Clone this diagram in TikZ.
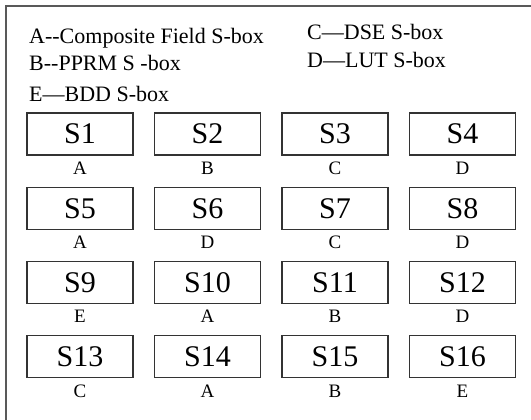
\documentclass[tikz,border=0pt]{standalone}
\usepackage{fontspec}
\setmainfont{Liberation Serif}
\usetikzlibrary{positioning}

\begin{document}
\begin{tikzpicture} [
       x=1pt, y=-1pt,
       sbox/.style={rectangle, draw=black!80, line width=1.1pt,
               minimum width=106pt, minimum height=42pt, inner sep=0pt,
               font=\fontsize{30}{30}\selectfont},
       legend/.style={anchor=base west, inner sep=0pt,
               font=\fontsize{22}{22}\selectfont},
       frame/.style={draw=black!65, line width=1.6pt},
       tag/.style={inner sep=0pt, font=\fontsize{19}{19}\selectfont},
       node distance=127.5pt,
       ]
       \useasboundingbox (0,0) rectangle (531,420);
       \path[frame] (531,6) -- (6,6) -- (6,420);
       % legend
       \node (keya) [legend] at (29,44) {A-{}-Composite Field S-box};
       \node (keyb) [legend] at (29,71) {B-{}-PPRM S -box};
       \node (keye) [legend] at (29,102) {E—BDD S-box};
       \node (keyc) [legend] at (307,40) {C—DSE S-box};
       \node (keyd) [legend] at (307,68) {D—LUT S-box};
       % row 1
       \node (s1) [sbox] at (80,134) {S1};
       \node (s2) [sbox, right of = s1] {S2};
       \node (s3) [sbox, right of = s2] {S3};
       \node (s4) [sbox, right of = s3] {S4};
       % row 2
       \node (s5) [sbox, below of = s1, node distance=74.3pt] {S5};
       \node (s6) [sbox, right of = s5] {S6};
       \node (s7) [sbox, right of = s6] {S7};
       \node (s8) [sbox, right of = s7] {S8};
       % row 3
       \node (s9) [sbox, below of = s5, node distance=74.3pt] {S9};
       \node (s10) [sbox, right of = s9] {S10};
       \node (s11) [sbox, right of = s10] {S11};
       \node (s12) [sbox, right of = s11] {S12};
       % row 4
       \node (s13) [sbox, below of = s9, node distance=74.3pt] {S13};
       \node (s14) [sbox, right of = s13] {S14};
       \node (s15) [sbox, right of = s14] {S15};
       \node (s16) [sbox, right of = s15] {S16};
       % kinds under the boxes
       \node (t1) [tag, below=6pt of s1] {A};
       \node (t2) [tag, below=6pt of s2] {B};
       \node (t3) [tag, below=6pt of s3] {C};
       \node (t4) [tag, below=6pt of s4] {D};
       \node (t5) [tag, below=6pt of s5] {A};
       \node (t6) [tag, below=6pt of s6] {D};
       \node (t7) [tag, below=6pt of s7] {C};
       \node (t8) [tag, below=6pt of s8] {D};
       \node (t9) [tag, below=6pt of s9] {E};
       \node (t10) [tag, below=6pt of s10] {A};
       \node (t11) [tag, below=6pt of s11] {B};
       \node (t12) [tag, below=6pt of s12] {D};
       \node (t13) [tag, below=6pt of s13] {C};
       \node (t14) [tag, below=6pt of s14] {A};
       \node (t15) [tag, below=6pt of s15] {B};
       \node (t16) [tag, below=6pt of s16] {E};
\end{tikzpicture}
\end{document}
